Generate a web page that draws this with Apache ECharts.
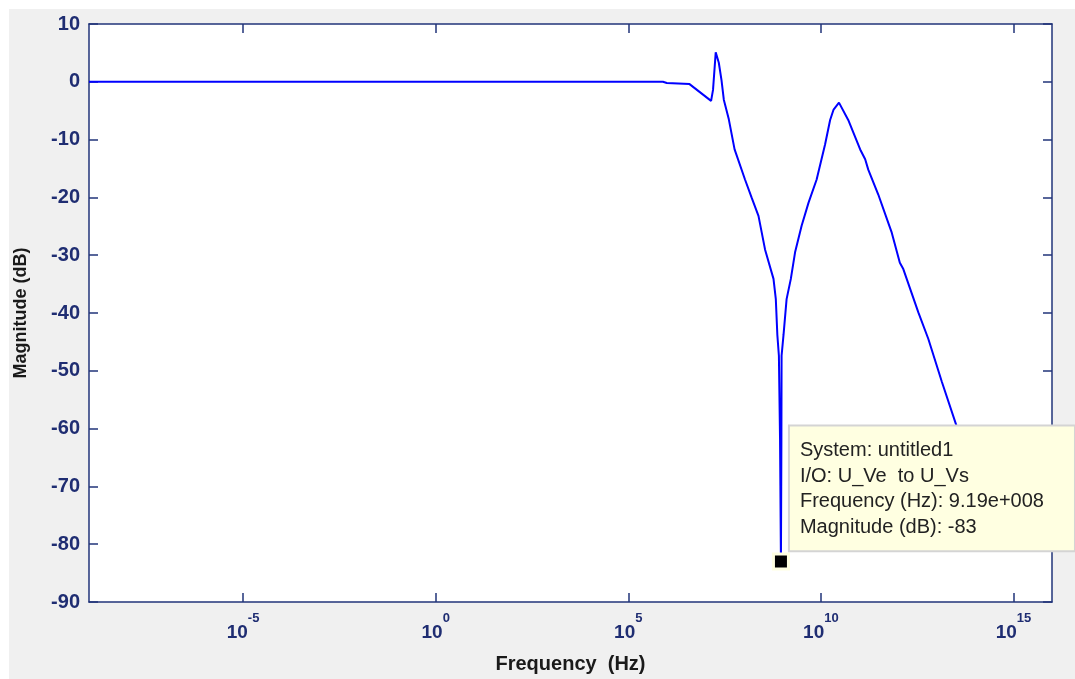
<!DOCTYPE html>
<html>
<head>
<meta charset="utf-8">
<script src="https://cdn.jsdelivr.net/npm/echarts@6/dist/echarts.min.js"></script>
<style>
    html, body { margin: 0; padding: 0; background: #fff; }
    #main {
        position: absolute; left: 0; top: 0; width: 1075px; height: 679px;
        background: linear-gradient(#f0f0f0, #f0f0f0) 9px 9px / 100% 100% no-repeat;
    }
</style>
</head>
<body>
<div id="main"></div>
<script>
// frequency as log10(Hz), magnitude in dB
var freqExp = [-9, 5.9, 6.0, 6.59, 7.15, 7.2, 7.27, 7.35, 7.42, 7.48, 7.61, 7.76, 8.03, 8.20, 8.38,
    8.55, 8.77, 8.83, 8.87, 8.91, 8.94, 8.963, 8.975, 8.98, 9.03, 9.11, 9.22, 9.33, 9.50, 9.68,
    9.89, 10.11, 10.24, 10.33, 10.47, 10.71, 11.02, 11.15, 11.23, 11.49, 11.75, 11.84, 12.05,
    12.14, 12.53, 12.79, 13.14, 13.53, 14.0];
var magDb = [0, 0, -0.2, -0.4, -3.3, -1.4, 5.1, 3.3, 0.3, -3.1, -6.5, -11.7, -16.9, -20, -23.2,
    -29, -34.1, -37.6, -43.8, -47.4, -62, -83, -62, -47.4, -43.8, -37.6, -34.1, -29.5, -24.9, -20.9,
    -16.9, -10.8, -6.6, -4.8, -3.6, -6.6, -11.7, -13.4, -15.2, -19.5, -24.4, -26.1, -31.3,
    -32.4, -39.9, -44.5, -51.9, -59.7, -70];
var xTicks = [-5, 0, 5, 10, 15];
var tipPoint = [Math.log10(9.19e8), -83];
var tipLines = ['System: untitled1', 'I/O: U_Ve  to U_Vs', 'Frequency (Hz): 9.19e+008', 'Magnitude (dB): -83'];

var axisColor = '#22357a';
var labelColor = '#1f2d72';

var chart = echarts.init(document.getElementById('main'));
var lineData = [];
for (var i = 0; i < freqExp.length; i++) {
    lineData.push([freqExp[i], magDb[i]]);
}

var option = {
    animation: false,
    grid: {
        left: 89, right: 23, top: 24, bottom: 75,
        show: true, backgroundColor: '#fff', borderWidth: 0
    },
    xAxis: [{
        type: 'value', min: -9, max: 16, position: 'bottom',
        name: 'Frequency  (Hz)', nameLocation: 'middle', nameGap: 52,
        nameTextStyle: { fontFamily: 'Liberation Sans', fontWeight: 'bold', fontSize: 20, color: '#1a1a1a' },
        axisLine: { onZero: false, lineStyle: { color: axisColor, width: 1.5 } },
        axisTick: { inside: true, length: 9, customValues: xTicks, lineStyle: { color: axisColor, width: 1.5 } },
        splitLine: { show: false },
        axisLabel: {
            customValues: xTicks, margin: 10,
            formatter: function (v) { return '{b|10}{e|' + v + '}'; },
            rich: {
                b: { fontFamily: 'Liberation Sans', fontWeight: 'bold', fontSize: 19, color: labelColor, verticalAlign: 'bottom', lineHeight: 30 },
                e: { fontFamily: 'Liberation Sans', fontWeight: 'bold', fontSize: 13, color: labelColor, verticalAlign: 'top', lineHeight: 30 }
            }
        }
    }, {
        type: 'value', min: -9, max: 16, position: 'top',
        axisLine: { onZero: false, lineStyle: { color: axisColor, width: 1.5 } },
        axisTick: { inside: true, length: 9, customValues: xTicks, lineStyle: { color: axisColor, width: 1.5 } },
        axisLabel: { show: false },
        splitLine: { show: false }
    }],
    yAxis: [{
        type: 'value', min: -90, max: 10, interval: 10, position: 'left',
        name: 'Magnitude (dB)', nameLocation: 'middle', nameGap: 59,
        nameTextStyle: { fontFamily: 'Liberation Sans', fontWeight: 'bold', fontSize: 18, color: '#1a1a1a' },
        axisLine: { show: true, onZero: false, lineStyle: { color: axisColor, width: 1.5 } },
        axisTick: { show: true, inside: true, length: 9, lineStyle: { color: axisColor, width: 1.5 } },
        splitLine: { show: false },
        axisLabel: { margin: 9, fontFamily: 'Liberation Sans', fontWeight: 'bold', fontSize: 20, color: labelColor }
    }, {
        type: 'value', min: -90, max: 10, interval: 10, position: 'right',
        axisLine: { show: true, onZero: false, lineStyle: { color: axisColor, width: 1.5 } },
        axisTick: { show: true, inside: true, length: 9, lineStyle: { color: axisColor, width: 1.5 } },
        axisLabel: { show: false },
        splitLine: { show: false }
    }],
    series: [{
        type: 'line',
        data: lineData,
        showSymbol: false,
        lineStyle: { color: '#0000ff', width: 2 },
        markPoint: {
            symbol: 'rect',
            symbolSize: 15,
            itemStyle: { color: '#000', borderColor: '#ffffe1', borderWidth: 3 },
            label: {
                show: true,
                position: [18, -126],
                formatter: tipLines.join('\n'),
                fontFamily: 'Liberation Sans',
                fontSize: 20,
                lineHeight: 25.7,
                color: '#222',
                align: 'left',
                verticalAlign: 'top',
                backgroundColor: '#ffffe1',
                borderColor: '#d4d4d4',
                borderWidth: 2,
                padding: [11, 30, 10, 10]
            },
            data: [{ coord: tipPoint }]
        }
    }]
};
chart.setOption(option);
</script>
</body>
</html>
